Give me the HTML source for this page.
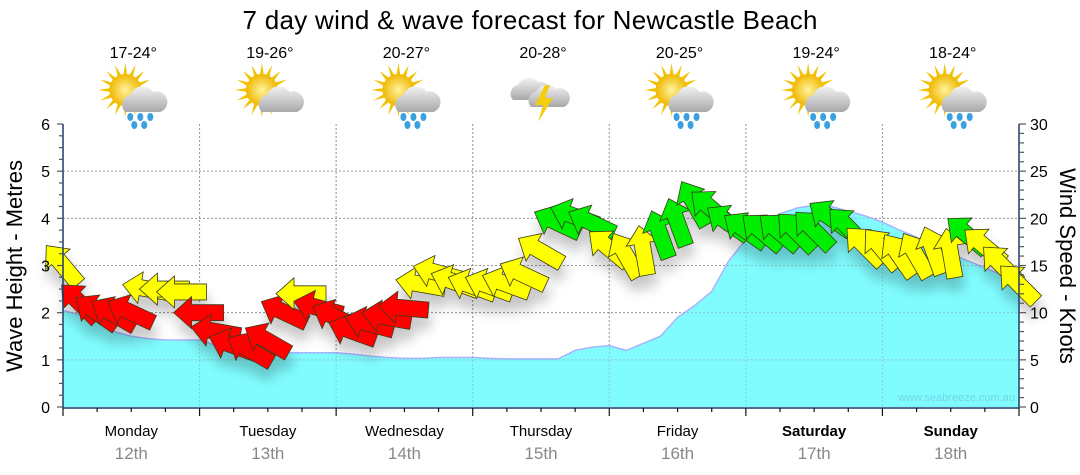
<!DOCTYPE html>
<html><head><meta charset="utf-8"><style>
html,body{margin:0;padding:0;background:#fff;}
svg{display:block;font-family:"Liberation Sans",sans-serif;}
</style></head><body>
<svg id="chart" width="1080" height="475" viewBox="0 0 1080 475">
<defs>
<filter id="sh" x="-50%" y="-50%" width="200%" height="200%"><feGaussianBlur in="SourceAlpha" stdDeviation="6"/><feOffset dx="2" dy="12"/><feComponentTransfer><feFuncA type="linear" slope="0.22"/></feComponentTransfer><feMerge><feMergeNode/><feMergeNode in="SourceGraphic"/></feMerge></filter>
<radialGradient id="sun" cx="50%" cy="50%" r="50%"><stop offset="0" stop-color="#fff3a0"/><stop offset="1" stop-color="#f0b800"/></radialGradient>
<linearGradient id="cloud" x1="0" y1="0" x2="0" y2="1"><stop offset="0" stop-color="#f2f2f2"/><stop offset="1" stop-color="#a8a8a8"/></linearGradient>
</defs>
<text x="530" y="29" font-size="26" text-anchor="middle" fill="#000" textLength="575">7 day wind &amp; wave forecast for Newcastle Beach</text>
<g id="grid"></g>
<g id="wave"></g>
<g id="arrows" filter="url(#sh)"></g>
<g id="axes"></g>
<g id="days"></g>
<text transform="translate(22,266) rotate(-90)" font-size="22" text-anchor="middle">Wave Height - Metres</text>
<text transform="translate(1060,266) rotate(90)" font-size="22" text-anchor="middle">Wind Speed - Knots</text>
<text x="1015" y="401" font-size="11" text-anchor="end" fill="#6fd6e6">www.seabreeze.com.au</text>
</svg>
<script>
const dayNames=["Monday","Tuesday","Wednesday","Thursday","Friday","Saturday","Sunday"];
const dayDates=["12th","13th","14th","15th","16th","17th","18th"];
const temps=["17-24°","19-26°","20-27°","20-28°","20-25°","19-24°","18-24°"];
const icons=["rain","cloud","rain","storm","rain","rain","rain"];
const waveTicks=[0,1,2,3,4,5,6];
const windTicks=[0,5,10,15,20,25,30];
const waveHeight=[2.05,1.95,1.8,1.6,1.5,1.45,1.42,1.42,1.42,1.3,1.2,1.17,1.15,1.15,1.15,1.15,1.15,1.12,1.08,1.05,1.03,1.03,1.05,1.05,1.05,1.03,1.02,1.02,1.02,1.02,1.2,1.27,1.3,1.2,1.35,1.5,1.9,2.15,2.45,3.1,3.55,3.85,4.1,4.22,4.28,4.25,4.15,4.05,3.92,3.75,3.6,3.42,3.25,3.1,2.95,2.8,2.65];
const windSpeed=[15,11,10,9.8,10,12.5,12.5,12.2,10,8,6.5,6,7,10,12,10.5,9.5,8,8.8,9.5,10.5,13,14.2,13.2,12.8,12.8,13,14,16.5,19.5,20.2,19.5,16.8,16,16.5,18.2,19.5,21.5,21,19.5,18.7,18.5,18.5,18.5,18.7,20,19,17,16.7,16,16,16.5,16.2,18.2,17,15,13];
const windRot=[50,45,35,30,25,10,0,0,0,10,20,30,30,25,0,15,25,20,15,10,5,10,15,20,20,20,20,25,30,25,20,25,40,60,80,70,70,60,40,35,35,40,40,45,45,35,45,45,50,55,60,70,80,40,40,45,45];
const NS="http://www.w3.org/2000/svg";
const X0=63,X1=1019,Y0=407,Y1=124,DAYS=7,STEPS=56;
const xT=i=>X0+(X1-X0)*i/STEPS;
const yW=m=>Y0-(Y0-Y1)*m/6;
const yK=k=>Y0-(Y0-Y1)*k/30;
const dayX=d=>X0+(X1-X0)*d/DAYS;
function mk(t,a,p){const e=document.createElementNS(NS,t);for(const k in a)e.setAttribute(k,a[k]);(p||document.getElementById('chart')).appendChild(e);return e;}
const grid=document.getElementById('grid');
for(const v of waveTicks){if(v===0||v===6)continue;const l=mk('line',{x1:X0,x2:X1,y1:yW(v),y2:yW(v),stroke:'#999','stroke-dasharray':'2,2','stroke-width':1},grid);}
for(let d=1;d<DAYS;d++){const l=mk('line',{x1:dayX(d),x2:dayX(d),y1:Y1,y2:Y0,stroke:'#999','stroke-dasharray':'2,2','stroke-width':1},grid);}
const wg=document.getElementById('wave');
let pts=waveHeight.map((v,i)=>xT(i)+','+yW(v));
const area=mk('polygon',{points:X0+','+Y0+' '+pts.join(' ')+' '+X1+','+Y0,fill:'#80fcff'},wg);

const ln=mk('polyline',{points:pts.join(' '),fill:'none',stroke:'#a8b4ff','stroke-width':1.5},wg);

for(const v of [1,2,3,4,5]){mk('line',{x1:X0,x2:X1,y1:yW(v),y2:yW(v),stroke:'#999','stroke-dasharray':'2,2','stroke-width':1,opacity:0.5},wg);}
for(let d=1;d<DAYS;d++){mk('line',{x1:dayX(d),x2:dayX(d),y1:Y1,y2:Y0,stroke:'#999','stroke-dasharray':'2,2','stroke-width':1,opacity:0.5},wg);}
const ag=document.getElementById('arrows');
function col(k){return k<12?'#ff0000':(k<18?'#ffff00':'#00ee00');}
windSpeed.forEach((k,i)=>{
  const p=mk('polygon',{points:'-26,0 -8,-16 -8,-8 24,-8 24,8 -8,8 -8,16',fill:col(k),stroke:'#3a3a1a','stroke-width':0.8,transform:`translate(${xT(i)},${yK(k)}) rotate(${windRot[i]})`},ag);
  
  
});
const ax=document.getElementById('axes');
mk('line',{x1:X0,x2:X0,y1:Y1,y2:Y0+1,stroke:'#1a3d6b','stroke-width':1.5},ax);
mk('line',{x1:X1,x2:X1,y1:Y1,y2:Y0+1,stroke:'#1a3d6b','stroke-width':1.5},ax);
mk('line',{x1:X0,x2:X1,y1:Y0+1,y2:Y0+1,stroke:'#1a3d6b','stroke-width':1.5},ax);
for(let q=0;q<=24;q++){const v=q/4,y=yW(v);mk('line',{x1:X0-(q%4?4:6),x2:X0,y1:y,y2:y,stroke:'#555','stroke-width':1.2},ax);}
for(const v of waveTicks){const t=mk('text',{x:50,y:yW(v)+6,'font-size':16,'text-anchor':'end'},ax);t.textContent=v;}
for(let k=0;k<=30;k++){const y=yK(k);mk('line',{x1:X1,x2:X1+(k%5?5:7),y1:y,y2:y,stroke:'#555','stroke-width':1.2},ax);}
for(const v of windTicks){const t=mk('text',{x:1030,y:yK(v)+6,'font-size':16,'text-anchor':'start'},ax);t.textContent=v;}
for(let q=0;q<=DAYS*4;q++){const x=X0+(X1-X0)*q/(DAYS*4);mk('line',{x1:x,x2:x,y1:Y0+1,y2:Y0+(q%4?5:9),stroke:'#111','stroke-width':1.2},ax);}
const dg=document.getElementById('days');
function icon(type,cx,cy,g){
  if(type!=='storm'){
    for(let a=0;a<16;a++){const r=a*Math.PI/8;mk('polygon',{points:`${cx-8+Math.cos(r-0.13)*15},${cy-5+Math.sin(r-0.13)*15} ${cx-8+Math.cos(r)*27},${cy-5+Math.sin(r)*27} ${cx-8+Math.cos(r+0.13)*15},${cy-5+Math.sin(r+0.13)*15}`,fill:'#f2c200'},g);}
    mk('circle',{cx:cx-8,cy:cy-5,r:16,fill:'url(#sun)'},g);
    mk('path',{d:`M${cx-8},${cy+17} a10,10 0 0 1 5,-17 a13,13 0 0 1 23,-3 a10,10 0 0 1 7,20 z`,fill:'url(#cloud)'},g);
    if(type==='rain'){[[-3,22],[7,22],[17,22],[1,30],[11,30]].forEach(p=>mk('ellipse',{cx:cx+p[0],cy:cy+p[1],rx:3,ry:4,fill:'#3aa0e0'},g));}
  }else{
    mk('path',{d:`M${cx-30},${cy+5} a9,9 0 0 1 5,-15 a12,12 0 0 1 20,-3 a9,9 0 0 1 5,18 z`,fill:'url(#cloud)'},g);
    mk('path',{d:`M${cx-12},${cy+12} a9,9 0 0 1 5,-15 a12,12 0 0 1 20,-3 a9,9 0 0 1 8,18 z`,fill:'url(#cloud)'},g);
    mk('polygon',{points:`${cx+2},${cy-10} ${cx-8},${cy+10} ${cx},${cy+10} ${cx-5},${cy+27} ${cx+10},${cy+3} ${cx+2},${cy+3} ${cx+7},${cy-10}`,fill:'#f4cc10'},g);
  }
}
dayNames.forEach((n,d)=>{
  const cx=dayX(d+0.5);
  const t=mk('text',{x:cx,y:436,'font-size':15,'text-anchor':'middle','font-weight':d>=5?'bold':'normal'},dg);t.textContent=n;
  
  const t2=mk('text',{x:cx,y:459,'font-size':17,'text-anchor':'middle',fill:'#888'},dg);t2.textContent=dayDates[d];
  
  const t3=mk('text',{x:cx+2,y:58,'font-size':16,'text-anchor':'middle'},dg);t3.textContent=temps[d];
  
  const g=mk('g',{},dg);
  icon(icons[d],cx+2,95,g);
});
</script>
</body></html>
